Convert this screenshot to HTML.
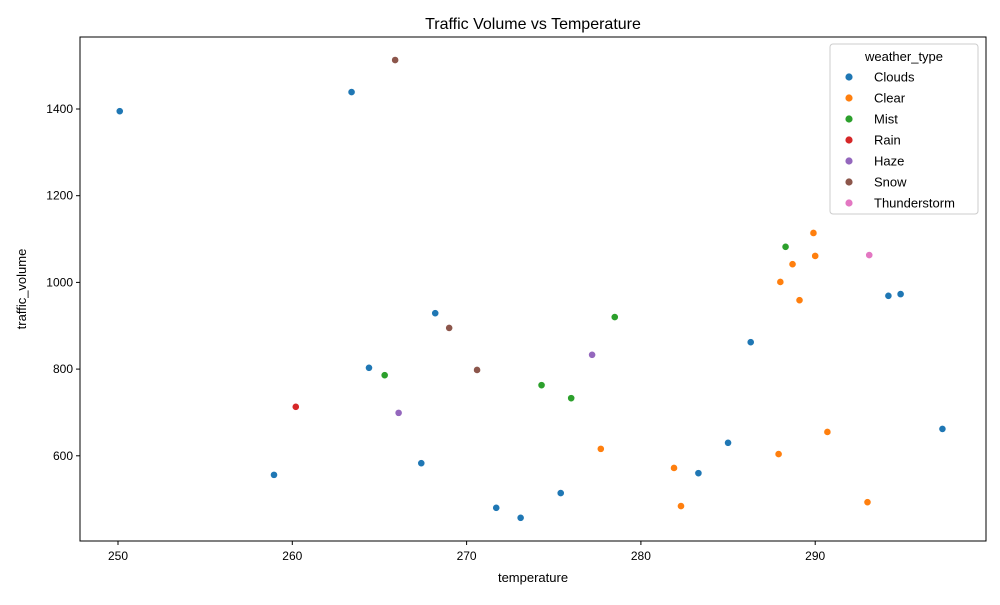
<!DOCTYPE html>
<html><head><meta charset="utf-8"><style>
body{margin:0;background:#fff;}
svg text{font-family:"Liberation Sans",sans-serif;fill:#000;}
</style></head><body>
<svg id="chart" width="1000" height="600" xmlns="http://www.w3.org/2000/svg">
<rect width="1000" height="600" fill="#fff"/>
<text x="533" y="29" font-size="16" text-anchor="middle">Traffic Volume vs Temperature</text>
<g id="plot"></g>
<rect x="80" y="37" width="906" height="504" fill="none" stroke="#000" stroke-width="1"/>
<text x="533" y="582" font-size="13" text-anchor="middle">temperature</text>
<text x="26" y="289" font-size="13" text-anchor="middle" transform="rotate(-90 26 289)">traffic_volume</text>
<g id="legend"></g>
</svg>
<script>
const categories = ["Clouds","Clear","Mist","Rain","Haze","Snow","Thunderstorm"];
const colors = ["#1f77b4","#ff7f0e","#2ca02c","#d62728","#9467bd","#8c564b","#e377c2"];
const xTicks = [250,260,270,280,290];
const yTicks = [600,800,1000,1200,1400];
const cloudsX = [250.1,263.4,268.2,264.4,286.3,294.2,294.9,297.3,285.0,267.4,258.95,283.3,275.4,271.7,273.1];
const cloudsY = [1395,1439,929,803,862,969,973,662,630,583,556,560,514,480,457];
const clearX = [289.9,290.0,288.7,288.0,289.1,290.7,277.7,287.9,281.9,293.0,282.3];
const clearY = [1114,1061,1042,1001,959,655,616,604,572,493,484];
const mistX = [288.3,278.5,265.3,274.3,276.0];
const mistY = [1082,920,786,763,733];
const rainX = [260.2];
const rainY = [713];
const hazeX = [277.2,266.1];
const hazeY = [833,699];
const snowX = [265.9,269.0,270.6];
const snowY = [1513,895,798];
const stormX = [293.1];
const stormY = [1063];
const seriesX = [cloudsX,clearX,mistX,rainX,hazeX,snowX,stormX];
const seriesY = [cloudsY,clearY,mistY,rainY,hazeY,snowY,stormY];

const NS = "http://www.w3.org/2000/svg";
function xs(v){return 118 + (v-250)*17.43;}
function ys(v){return 109 - (v-1400)*0.4335;}
const plot = document.getElementById('plot');
function mk(tag, attrs, parent){const e=document.createElementNS(NS,tag);for(const k in attrs)e.setAttribute(k,attrs[k]);parent.appendChild(e);return e;}

xTicks.forEach(t=>{
  const g=mk('g',{},plot);
  
  
  mk('line',{x1:xs(t),x2:xs(t),y1:541,y2:545,stroke:'#000'},g);
  const tx=mk('text',{x:xs(t),y:560,'font-size':12,'text-anchor':'middle'},g);
  tx.textContent=t;
});
yTicks.forEach(t=>{
  const g=mk('g',{},plot);
  
  
  mk('line',{x1:76,x2:80,y1:ys(t),y2:ys(t),stroke:'#000'},g);
  const tx=mk('text',{x:73,y:ys(t)+4,'font-size':12,'text-anchor':'end'},g);
  tx.textContent=t;
});
seriesX.forEach((xsArr,si)=>{
  xsArr.forEach((xv,i)=>{
    const c=mk('circle',{cx:xs(xv),cy:ys(seriesY[si][i]),r:3.6,fill:colors[si],stroke:'#fff','stroke-width':0.6},plot);
    
    
  });
});
const lg=document.getElementById('legend');
mk('rect',{x:830,y:44,width:148,height:170,rx:3,fill:'#fff',stroke:'#ccc'},lg);
const lt=mk('text',{x:904,y:61,'font-size':13,'text-anchor':'middle'},lg);
lt.textContent='weather_type';
categories.forEach((c,i)=>{
  const g=mk('g',{},lg);
  
  
  const y=77+i*21;
  mk('circle',{cx:849,cy:y,r:3.6,fill:colors[i]},g);
  const t=mk('text',{x:874,y:y+4.5,'font-size':13},g);
  t.textContent=c;
});
</script>
</body></html>
